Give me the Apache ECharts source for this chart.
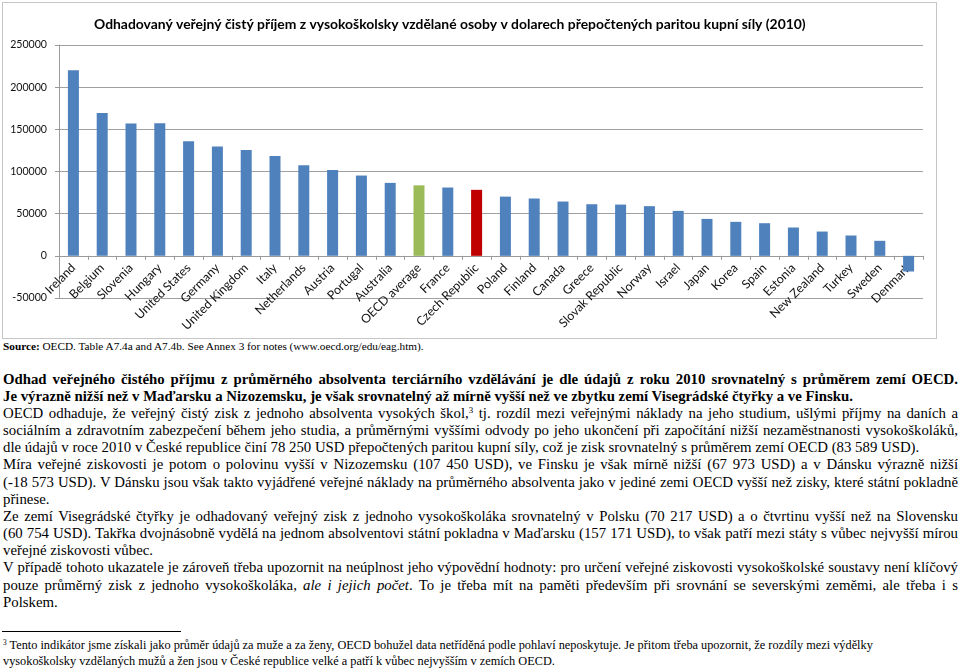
<!DOCTYPE html>
<html>
<head>
<meta charset="utf-8">
<script src="https://cdn.jsdelivr.net/npm/echarts@6/dist/echarts.min.js"></script>
<style>
  html, body { margin: 0; padding: 0; background: #fff; }
  body { width: 960px; height: 669px; position: relative; overflow: hidden; }
  #box { position: absolute; left: 2px; top: 2px; width: 935px; height: 337px; box-sizing: border-box; border: 1px solid #c6c6c6; }
  #chart { width: 933px; height: 335px; }
  .txt { position: absolute; left: 3px; width: 955px; font-family: "Liberation Serif", "Times New Roman", serif; color: #000; }
  #source { top: 339.5px; font-size: 11.25px; line-height: 13px; }
  #main { top: 370.7px; font-size: 14.8px; line-height: 17.15px; }
  #main div { white-space: nowrap; overflow: visible; }
  #main div.j { text-align: justify; text-align-last: justify; white-space: normal; }
  #main div.b { font-weight: bold; }
  sup { font-size: 0.6em; line-height: 0; vertical-align: 0.55em; }
  #rule { position: absolute; left: 2px; top: 631px; width: 179px; height: 0; border-top: 1px solid #000; }
  #foot { top: 637px; font-size: 12.3px; line-height: 16px; }
  #foot div { white-space: nowrap; }
</style>
</head>
<body>
<div id="box"><div id="chart"></div></div>
<div class="txt" id="source"><b>Source:</b> OECD. Table A7.4a and A7.4b. See Annex 3 for notes (www.oecd.org/edu/eag.htm).</div>
<div class="txt" id="main">
  <div class="b j">Odhad veřejného čistého příjmu z průměrného absolventa terciárního vzdělávání je dle údajů z roku 2010 srovnatelný s průměrem zemí OECD.</div>
  <div class="b">Je výrazně nižší než v Maďarsku a Nizozemsku, je však srovnatelný až mírně vyšší než ve zbytku zemí Visegrádské čtyřky a ve Finsku.</div>
  <div class="j">OECD odhaduje, že veřejný čistý zisk z jednoho absolventa vysokých škol,<sup>3</sup> tj. rozdíl mezi veřejnými náklady na jeho studium, ušlými příjmy na daních a</div>
  <div class="j">sociálním a zdravotním zabezpečení během jeho studia, a průměrnými vyššími odvody po jeho ukončení při započítání nižší nezaměstnanosti vysokoškoláků,</div>
  <div>dle údajů v roce 2010 v České republice činí 78 250 USD přepočtených paritou kupní síly, což je zisk srovnatelný s průměrem zemí OECD (83 589 USD).</div>
  <div class="j">Míra veřejné ziskovosti je potom o polovinu vyšší v Nizozemsku (107 450 USD), ve Finsku je však mírně nižší (67 973 USD) a v Dánsku výrazně nižší</div>
  <div class="j">(-18 573 USD). V Dánsku jsou však takto vyjádřené veřejné náklady na průměrného absolventa jako v jediné zemi OECD vyšší než zisky, které státní pokladně</div>
  <div>přinese.</div>
  <div class="j">Ze zemí Visegrádské čtyřky je odhadovaný veřejný zisk z jednoho vysokoškoláka srovnatelný v Polsku (70 217 USD) a o čtvrtinu vyšší než na Slovensku</div>
  <div class="j">(60 754 USD). Takřka dvojnásobně vydělá na jednom absolventovi státní pokladna v Maďarsku (157 171 USD), to však patří mezi státy s vůbec nejvyšší mírou</div>
  <div>veřejné ziskovosti vůbec.</div>
  <div class="j">V případě tohoto ukazatele je zároveň třeba upozornit na neúplnost jeho výpovědní hodnoty: pro určení veřejné ziskovosti vysokoškolské soustavy není klíčový</div>
  <div class="j">pouze průměrný zisk z jednoho vysokoškoláka, <i>ale i jejich počet</i>. To je třeba mít na paměti především při srovnání se severskými zeměmi, ale třeba i s</div>
  <div>Polskem.</div>
</div>
<div id="rule"></div>
<div class="txt" id="foot">
  <div><sup>3</sup> Tento indikátor jsme získali jako průměr údajů za muže a za ženy, OECD bohužel data netříděná podle pohlaví neposkytuje. Je přitom třeba upozornit, že rozdíly mezi výdělky</div>
  <div>vysokoškolsky vzdělaných mužů a žen jsou v České republice velké a patří k vůbec nejvyšším v zemích OECD.</div>
</div>
<script>
const chartTitle = 'Odhadovaný veřejný čistý příjem z vysokoškolsky vzdělané osoby v dolarech přepočtených paritou kupní síly (2010)';
const categories = ['Ireland','Belgium','Slovenia','Hungary','United States','Germany','United Kingdom','Italy','Netherlands','Austria','Portugal','Australia','OECD average','France','Czech Republic','Poland','Finland','Canada','Greece','Slovak Republic','Norway','Israel','Japan','Korea','Spain','Estonia','New Zealand','Turkey','Sweden','Denmark'];
const values = [220000,169400,156800,157171,135900,129500,125600,118500,107450,101900,95200,86500,83589,81000,78250,70217,67973,64400,61200,60754,58900,53300,43800,40300,38700,33600,28800,24100,17800,-18573];
const yMin = -50000, yMax = 250000, yStep = 50000;

const BLUE = '#4F81BD', GREEN = '#9BBB59', RED = '#C00000';
const FONT = 'Lato, sans-serif';

const CH = 335, GT = 42, GB = 40;
const gridH = CH - GT - GB;
// move the category axis (line, ticks, labels) up to the value 0, as in the original
const zeroOffset = -gridH * (0 - yMin) / (yMax - yMin);

const chart = echarts.init(document.getElementById('chart'), null, { renderer: 'canvas' });
chart.setOption({
  animation: false,
  title: {
    text: chartTitle,
    left: 86, top: 10,
    textStyle: { fontFamily: FONT, fontSize: 13.9, fontWeight: 'bold', color: '#000' }
  },
  grid: { left: 56, right: 13, top: GT, bottom: GB, containLabel: false, outerBoundsMode: 'none' },
  xAxis: {
    type: 'category',
    data: categories,
    offset: zeroOffset,
    axisLine: { show: true, onZero: false, lineStyle: { color: '#9a9a9a', width: 1 } },
    axisTick: { show: true, length: 4, lineStyle: { color: '#9a9a9a' } },
    axisLabel: { rotate: 45, margin: 10, interval: 0, fontFamily: FONT, fontSize: 12.3, color: '#111' }
  },
  yAxis: {
    type: 'value',
    min: yMin, max: yMax, interval: yStep,
    axisLine: { show: true, lineStyle: { color: '#9a9a9a' } },
    axisTick: { show: true, length: 4, lineStyle: { color: '#9a9a9a' } },
    splitLine: { show: true, lineStyle: { color: '#a0a0a0', width: 1 } },
    axisLabel: { margin: 12, fontFamily: FONT, fontSize: 10.6, color: '#111', formatter: v => String(v) }
  },
  series: [{
    type: 'bar',
    barWidth: 11,
    data: values.map((v, i) => ({
      value: v,
      itemStyle: { color: categories[i] === 'OECD average' ? GREEN : (categories[i] === 'Czech Republic' ? RED : BLUE) }
    }))
  }]
});
</script>
</body>
</html>
